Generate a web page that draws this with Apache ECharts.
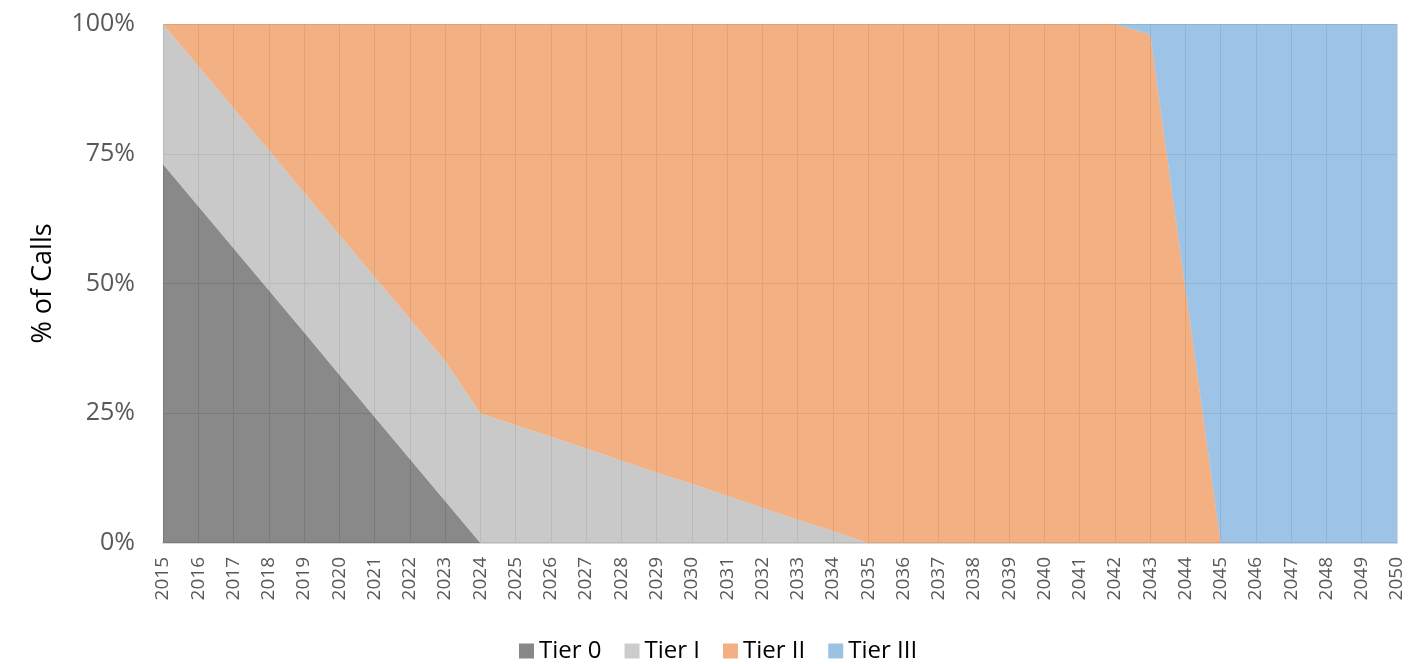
<!DOCTYPE html>
<html>
<head>
<meta charset="utf-8">
<style>
  html, body { margin: 0; padding: 0; background: #ffffff; }
  #chart { width: 1417px; height: 664px; }
</style>
<script src="https://cdn.jsdelivr.net/npm/echarts@6/dist/echarts.min.js"></script>
</head>
<body>
<div id="chart"></div>
<script>
// Years on the category axis
const years = [
  '2015','2016','2017','2018','2019','2020','2021','2022','2023','2024',
  '2025','2026','2027','2028','2029','2030','2031','2032','2033','2034',
  '2035','2036','2037','2038','2039','2040','2041','2042','2043','2044',
  '2045','2046','2047','2048','2049','2050'
];

// Share of calls per tier, in percent
const tier0 = [
  73, 64.9, 56.8, 48.7, 40.6, 32.4, 24.3, 16.2, 8.1, 0,
  0, 0, 0, 0, 0, 0, 0, 0, 0, 0,
  0, 0, 0, 0, 0, 0, 0, 0, 0, 0,
  0, 0, 0, 0, 0, 0
];
const tier1 = [
  27, 27, 27, 27, 27, 27, 27, 27, 27, 25,
  22.7, 20.5, 18.2, 15.9, 13.6, 11.4, 9.1, 6.8, 4.5, 2.3,
  0, 0, 0, 0, 0, 0, 0, 0, 0, 0,
  0, 0, 0, 0, 0, 0
];
const tier2 = [
  0, 8.1, 16.2, 24.3, 32.4, 40.6, 48.7, 56.8, 64.9, 75,
  77.3, 79.5, 81.8, 84.1, 86.4, 88.6, 90.9, 93.2, 95.5, 97.7,
  100, 100, 100, 100, 100, 100, 100, 100, 98, 49,
  0, 0, 0, 0, 0, 0
];
const tier3 = [
  0, 0, 0, 0, 0, 0, 0, 0, 0, 0,
  0, 0, 0, 0, 0, 0, 0, 0, 0, 0,
  0, 0, 0, 0, 0, 0, 0, 0, 2, 51,
  100, 100, 100, 100, 100, 100
];

const yTicks = ['0%', '25%', '50%', '75%', '100%'];

const FONT = '"Open Sans", "Noto Sans", sans-serif';

function area(name, data, color) {
  return {
    name: name,
    type: 'line',
    stack: 'calls',
    data: data,
    symbol: 'none',
    showSymbol: false,
    lineStyle: { width: 0 },
    itemStyle: { color: color },
    areaStyle: { color: color, opacity: 0.6 },
    emphasis: { disabled: true },
    z: 2
  };
}

const chart = echarts.init(document.getElementById('chart'), null, { renderer: 'canvas' });
chart.setOption({
  animation: false,
  grid: { left: 163, right: 20, top: 24, bottom: 121, containLabel: false },
  legend: {
    top: 634,
    left: 514,
    itemWidth: 15,
    itemHeight: 15,
    itemGap: 23,
    icon: 'rect',
    textStyle: { fontFamily: FONT, fontSize: 24, color: '#000000' },
    data: [
      { name: 'Tier 0', itemStyle: { color: '#898788' } },
      { name: 'Tier I', itemStyle: { color: '#cdcccb' } },
      { name: 'Tier II', itemStyle: { color: '#f3b183' } },
      { name: 'Tier III', itemStyle: { color: '#9dc1e3' } }
    ]
  },
  xAxis: {
    type: 'category',
    data: years,
    boundaryGap: false,
    axisLine: { show: true, lineStyle: { color: '#d9d9d9', width: 2 } },
    axisTick: { show: false },
    splitLine: { show: true, lineStyle: { color: '#d9d9d9', width: 1 } },
    axisLabel: {
      interval: 0,
      rotate: 90,
      margin: 14,
      fontFamily: FONT,
      fontSize: 19,
      color: '#595959'
    }
  },
  yAxis: {
    type: 'value',
    min: 0,
    max: 100,
    interval: 25,
    name: '% of Calls',
    nameLocation: 'middle',
    nameGap: 106,
    nameRotate: 90,
    nameTextStyle: { fontFamily: FONT, fontSize: 27, color: '#000000' },
    axisLine: { show: false },
    axisTick: { show: false },
    splitLine: { show: true, lineStyle: { color: '#d9d9d9', width: 1 } },
    axisLabel: {
      margin: 28,
      fontFamily: FONT,
      fontSize: 25,
      color: '#595959',
      formatter: function (v) { return yTicks[Math.round(v / 25)]; }
    }
  },
  series: [
    area('Tier 0', tier0, '#3b3a3b'),
    area('Tier I', tier1, '#a5a5a5'),
    area('Tier II', tier2, '#eb7d30'),
    area('Tier III', tier3, '#5b9bd5')
  ]
});
</script>
</body>
</html>
